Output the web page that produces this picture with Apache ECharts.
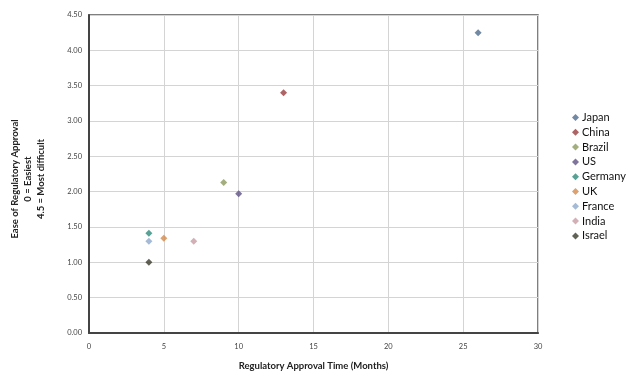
<!DOCTYPE html>
<html>
<head>
<meta charset="utf-8">
<script src="https://cdn.jsdelivr.net/npm/echarts@6/dist/echarts.min.js"></script>
<style>
  html, body {margin: 0; padding: 0; background: #fff;}
  #chart {width: 630px; height: 376px;}
</style>
</head>
<body>
<div id="chart"></div>
<script>
// one point per country
const countries = ['Japan', 'China', 'Brazil', 'US', 'Germany', 'UK', 'France', 'India', 'Israel']
const approvalMonths = [26, 13, 9, 10, 4, 5, 4, 7, 4]
const easeScore = [4.25, 3.40, 2.13, 1.97, 1.41, 1.34, 1.30, 1.30, 1.00]
const palette = ['#4e6b8c', '#9a3c3e', '#8b9a5c', '#5e5183', '#2e8b7a', '#d4894b', '#8ea9cc', '#c89ca3', '#3b3a2c']

const font = 'Lato, "Open Sans", sans-serif'

const series = countries.map((name, i) => ({
    name: name,
    type: 'scatter',
    symbol: 'diamond',
    symbolSize: 7,
    itemStyle: {color: palette[i]},
    data: [[approvalMonths[i], easeScore[i]]]
}))

const chart = echarts.init(document.getElementById('chart'))
chart.setOption({
    animation: false,
    grid: {
        left: 88, right: 92, top: 15, bottom: 42,
        show: true, borderColor: '#555', borderWidth: 1.5
    },
    legend: {
        orient: 'vertical',
        left: 567, top: 107,
        itemWidth: 7, itemHeight: 7, itemGap: 3.8,
        icon: 'diamond',
        textStyle: {fontFamily: font, fontSize: 11, color: '#111', padding: [0, 0, 0, -2]},
        data: countries
    },
    xAxis: {
        type: 'value',
        min: 0, max: 30, interval: 5,
        name: 'Regulatory Approval Time (Months)',
        nameLocation: 'middle', nameGap: 28,
        nameTextStyle: {fontFamily: font, fontSize: 9.5, fontWeight: 'bold', color: '#222'},
        axisLine: {show: true, lineStyle: {color: '#444', width: 2}},
        axisTick: {show: false},
        axisLabel: {fontFamily: font, fontSize: 7.5, color: '#444', margin: 10},
        splitLine: {lineStyle: {color: '#d4d4d4', width: 1}}
    },
    yAxis: {
        type: 'value',
        min: 0, max: 4.5, interval: 0.5,
        name: 'Ease of Regulatory Approval\n0 = Easiest\n4.5 = Most difficult',
        nameLocation: 'middle', nameGap: 42, nameRotate: 90,
        nameTextStyle: {fontFamily: font, fontSize: 9.5, fontWeight: 'bold', color: '#222', lineHeight: 13,
            padding: [0, 10, 0, 0]},
        axisLine: {show: true, lineStyle: {color: '#444', width: 2}},
        axisTick: {show: false},
        axisLabel: {fontFamily: font, fontSize: 7.5, color: '#444', margin: 7,
            formatter: v => v.toFixed(2)},
        splitLine: {lineStyle: {color: '#d4d4d4', width: 1}}
    },
    series: series
})
</script>
</body>
</html>
